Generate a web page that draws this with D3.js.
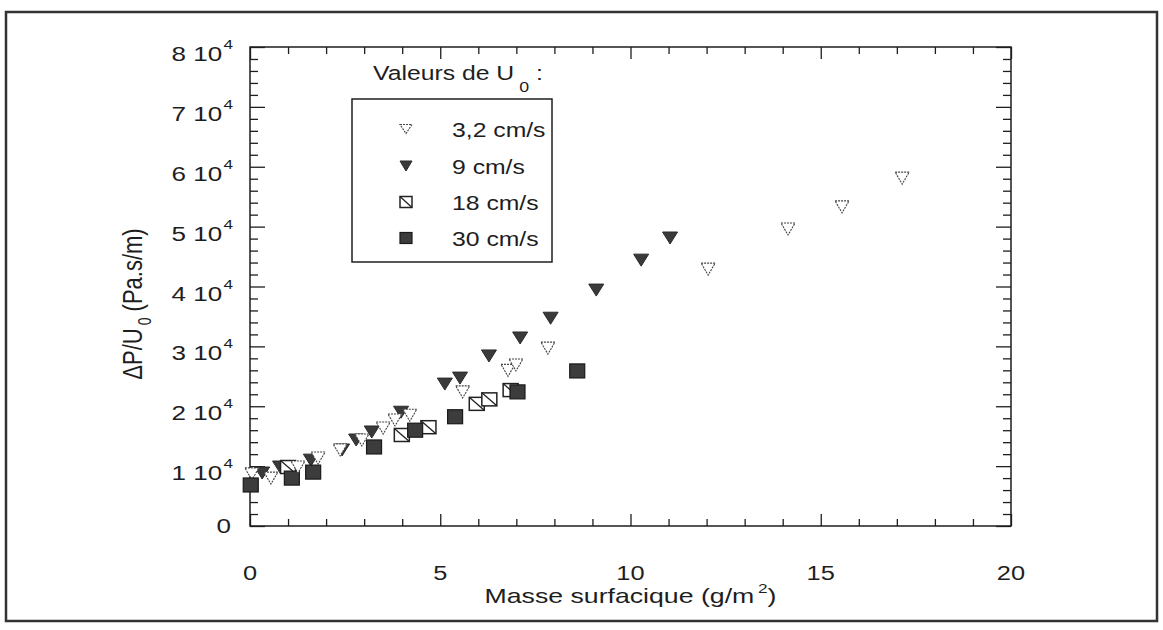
<!DOCTYPE html>
<html><head><meta charset="utf-8">
<script src="https://cdn.jsdelivr.net/npm/d3@7"></script>
<style>body{margin:0;background:#fff}svg{display:block}</style>
</head><body>
<svg id="c" width="1163" height="630"></svg>
<script>
// ---- data ----
const xMajorTicks = [0, 5, 10, 15, 20];
const yMajorTicks = [0, 10000, 20000, 30000, 40000, 50000, 60000, 70000, 80000];
const yTickMantissa = ["0", "1", "2", "3", "4", "5", "6", "7", "8"];
const seriesNames = ["3,2 cm/s", "9 cm/s", "18 cm/s", "30 cm/s"];

const x_u32 = [0.05, 0.55, 1.26, 1.79, 2.37, 2.94, 3.5, 3.81, 4.2, 5.59, 6.78, 6.99, 7.83, 12.04, 14.14, 15.56, 17.14];
const y_u32 = [8700, 8000, 9850, 11350, 12700, 14360, 16360, 17700, 18500, 22400, 26000, 26900, 29700, 42900, 49600, 53300, 58100];

const x_u9 = [0.32, 0.79, 1.6, 2.42, 2.79, 3.2, 3.97, 5.12, 5.52, 6.28, 7.1, 7.9, 9.1, 10.28, 11.04];
const y_u9 = [8850, 9850, 11000, 12700, 14360, 15700, 19000, 23700, 24700, 28400, 31400, 34700, 39400, 44400, 48100];

const x_u18 = [1.0, 3.99, 4.69, 5.96, 6.29, 6.85];
const y_u18 = [9850, 15200, 16500, 20400, 21150, 22700];

const x_u30 = [0.02, 1.1, 1.66, 3.26, 4.34, 5.39, 7.03, 8.6];
const y_u30 = [6850, 8000, 9000, 13200, 16000, 18250, 22400, 25900];

// ---- layout ----
const svg = d3.select("#c");
const L = 250, R = 1011, T = 47, B = 526;
const x = d3.scaleLinear().domain([0, 20]).range([L, R]);
const y = d3.scaleLinear().domain([0, 80000]).range([B, T]);
const FONT = "'Liberation Sans', Arial, Helvetica, sans-serif";
const SX = 1.27;          // horizontal stretch of the scanned lettering
const FS = 19.5;
const ink = "#1e1e1e";

function sText(parent, px, py, anchor, size, rot) {
  return parent.append("g")
    .attr("transform", `translate(${px},${py}) scale(${SX},1)` + (rot ? ` rotate(${rot})` : ""))
    .append("text").attr("text-anchor", anchor).attr("font-family", FONT)
    .attr("font-size", size).attr("fill", ink);
}

// outer frame
svg.append("rect").attr("x", 6).attr("y", 12).attr("width", 1151).attr("height", 609)
  .attr("fill", "none").attr("stroke", "#333").attr("stroke-width", 2.5);

const xMinor = d3.range(0, 21, 1).filter(v => v % 5 !== 0);
const yMinor = d3.range(0, 80001, 2000).filter(v => v % 10000 !== 0);

function styleAxis(g) {
  g.select(".domain").remove();
  g.selectAll("line").attr("stroke", ink).attr("stroke-width", 1.3);
  g.selectAll("text").remove();
}
const ax = (a, tx, ty) => svg.append("g").attr("transform", `translate(${tx},${ty})`).call(a).call(styleAxis);
ax(d3.axisBottom(x).tickValues(xMinor).tickSize(-7), 0, B);
ax(d3.axisBottom(x).tickValues(xMajorTicks).tickSize(-12), 0, B);
ax(d3.axisTop(x).tickValues(xMinor).tickSize(-7), 0, T);
ax(d3.axisTop(x).tickValues(xMajorTicks).tickSize(-12), 0, T);
ax(d3.axisLeft(y).tickValues(yMinor).tickSize(-8), L, 0);
ax(d3.axisLeft(y).tickValues(yMajorTicks).tickSize(-15), L, 0);
ax(d3.axisRight(y).tickValues(yMinor).tickSize(-8), R, 0);
ax(d3.axisRight(y).tickValues(yMajorTicks).tickSize(-15), R, 0);

// plot frame
svg.append("rect").attr("x", L).attr("y", T).attr("width", R - L).attr("height", B - T)
  .attr("fill", "none").attr("stroke", ink).attr("stroke-width", 1.5);

// tick labels
xMajorTicks.forEach(v => {
  sText(svg, x(v), 580, "middle", 20).text(d3.format("d")(v));
});
yMajorTicks.forEach((v, i) => {
  if (v === 0) { sText(svg, L - 19, y(v) + 7, "end", 20.5).text(yTickMantissa[i]); return; }
  const t = sText(svg, L - 17, y(v) + 14, "end", 20.5);
  t.append("tspan").text(yTickMantissa[i] + " 10");
  t.append("tspan").attr("font-size", 13.5).attr("dy", -12).attr("dx", 1).text("4");
});

// axis titles
const xt = sText(svg, (L + R) / 2, 603, "middle", 21);
xt.append("tspan").text("Masse surfacique (g/m");
xt.append("tspan").attr("font-size", 13.5).attr("dy", -10).attr("dx", 3).text("2");
xt.append("tspan").attr("dy", 10).text(")");

const yt = svg.append("g").attr("transform", `translate(142,304) scale(${SX},1) rotate(-90)`)
  .append("text").attr("text-anchor", "middle").attr("font-family", FONT).attr("font-size", 22).attr("fill", ink);
yt.append("tspan").text("\u0394P/U");
yt.append("tspan").attr("font-size", 14).attr("dy", 7).attr("dx", 3).text("0");
yt.append("tspan").attr("dy", -7).text(" (Pa.s/m)");

// ---- markers ----
const triPath = (w, h) => `M${-w/2},${-h/2}L${w/2},${-h/2}L0,${h/2}Z`;
function drawOpenTri(g, xs, ys, w, h) {
  g.selectAll(null).data(xs).enter().append("path")
    .attr("d", triPath(w, h))
    .attr("transform", (d, i) => `translate(${x(d)},${y(ys[i])})`)
    .attr("fill", "#fff").attr("stroke", "#444").attr("stroke-width", 1.1).attr("stroke-dasharray", "2,1");
}
function drawFilledTri(g, xs, ys, w, h) {
  g.selectAll(null).data(xs).enter().append("path")
    .attr("d", triPath(w, h))
    .attr("transform", (d, i) => `translate(${x(d)},${y(ys[i])})`)
    .attr("fill", "#3a3a3a").attr("stroke", "#2a2a2a").attr("stroke-width", 1);
}
function drawHatchSq(g, xs, ys, w, h) {
  const gg = g.selectAll(null).data(xs).enter().append("g")
    .attr("transform", (d, i) => `translate(${x(d)},${y(ys[i])})`);
  gg.append("rect").attr("x", -w/2).attr("y", -h/2).attr("width", w).attr("height", h)
    .attr("fill", "#fff").attr("stroke", "#222").attr("stroke-width", 1.5);
  gg.append("line").attr("x1", -w/2).attr("y1", -h/2).attr("x2", w/2).attr("y2", h/2)
    .attr("stroke", "#222").attr("stroke-width", 1.3);
}
function drawFilledSq(g, xs, ys, w, h) {
  g.selectAll(null).data(xs).enter().append("rect")
    .attr("x", d => x(d) - w/2).attr("y", (d, i) => y(ys[i]) - h/2)
    .attr("width", w).attr("height", h)
    .attr("fill", "#3c3c3c").attr("stroke", "#1a1a1a").attr("stroke-width", 1.2);
}
const pts = svg.append("g");
drawFilledTri(pts, x_u9, y_u9, 15, 12);
drawHatchSq(pts, x_u18, y_u18, 15, 13);
drawOpenTri(pts, x_u32.slice(0,1), y_u32.slice(0,1), 14, 12);
drawFilledSq(pts, x_u30, y_u30, 15, 14);
drawOpenTri(pts, x_u32.slice(1), y_u32.slice(1), 14, 12);

// ---- legend ----
const lg = svg.append("g");
const lt = sText(lg, 373, 80, "start", FS);
lt.append("tspan").text("Valeurs de U");
lt.append("tspan").attr("font-size", 14).attr("dy", 12).attr("dx", 4).text("0");
lt.append("tspan").attr("dy", -12).text(" :");
lg.append("rect").attr("x", 352).attr("y", 99).attr("width", 200).attr("height", 163)
  .attr("fill", "#fff").attr("stroke", ink).attr("stroke-width", 1.5);
const rowY = [129, 166, 202, 238];
const lx = x.invert(406);
drawOpenTri(lg, [lx], [y.invert(rowY[0])], 12, 9);
drawFilledTri(lg, [lx], [y.invert(rowY[1])], 12, 10);
drawHatchSq(lg, [lx], [y.invert(rowY[2])], 12, 11);
drawFilledSq(lg, [lx], [y.invert(rowY[3])], 12, 11);
seriesNames.forEach((s, i) => sText(lg, 452, rowY[i] + 8, "start", FS).text(s));
</script>
</body></html>
